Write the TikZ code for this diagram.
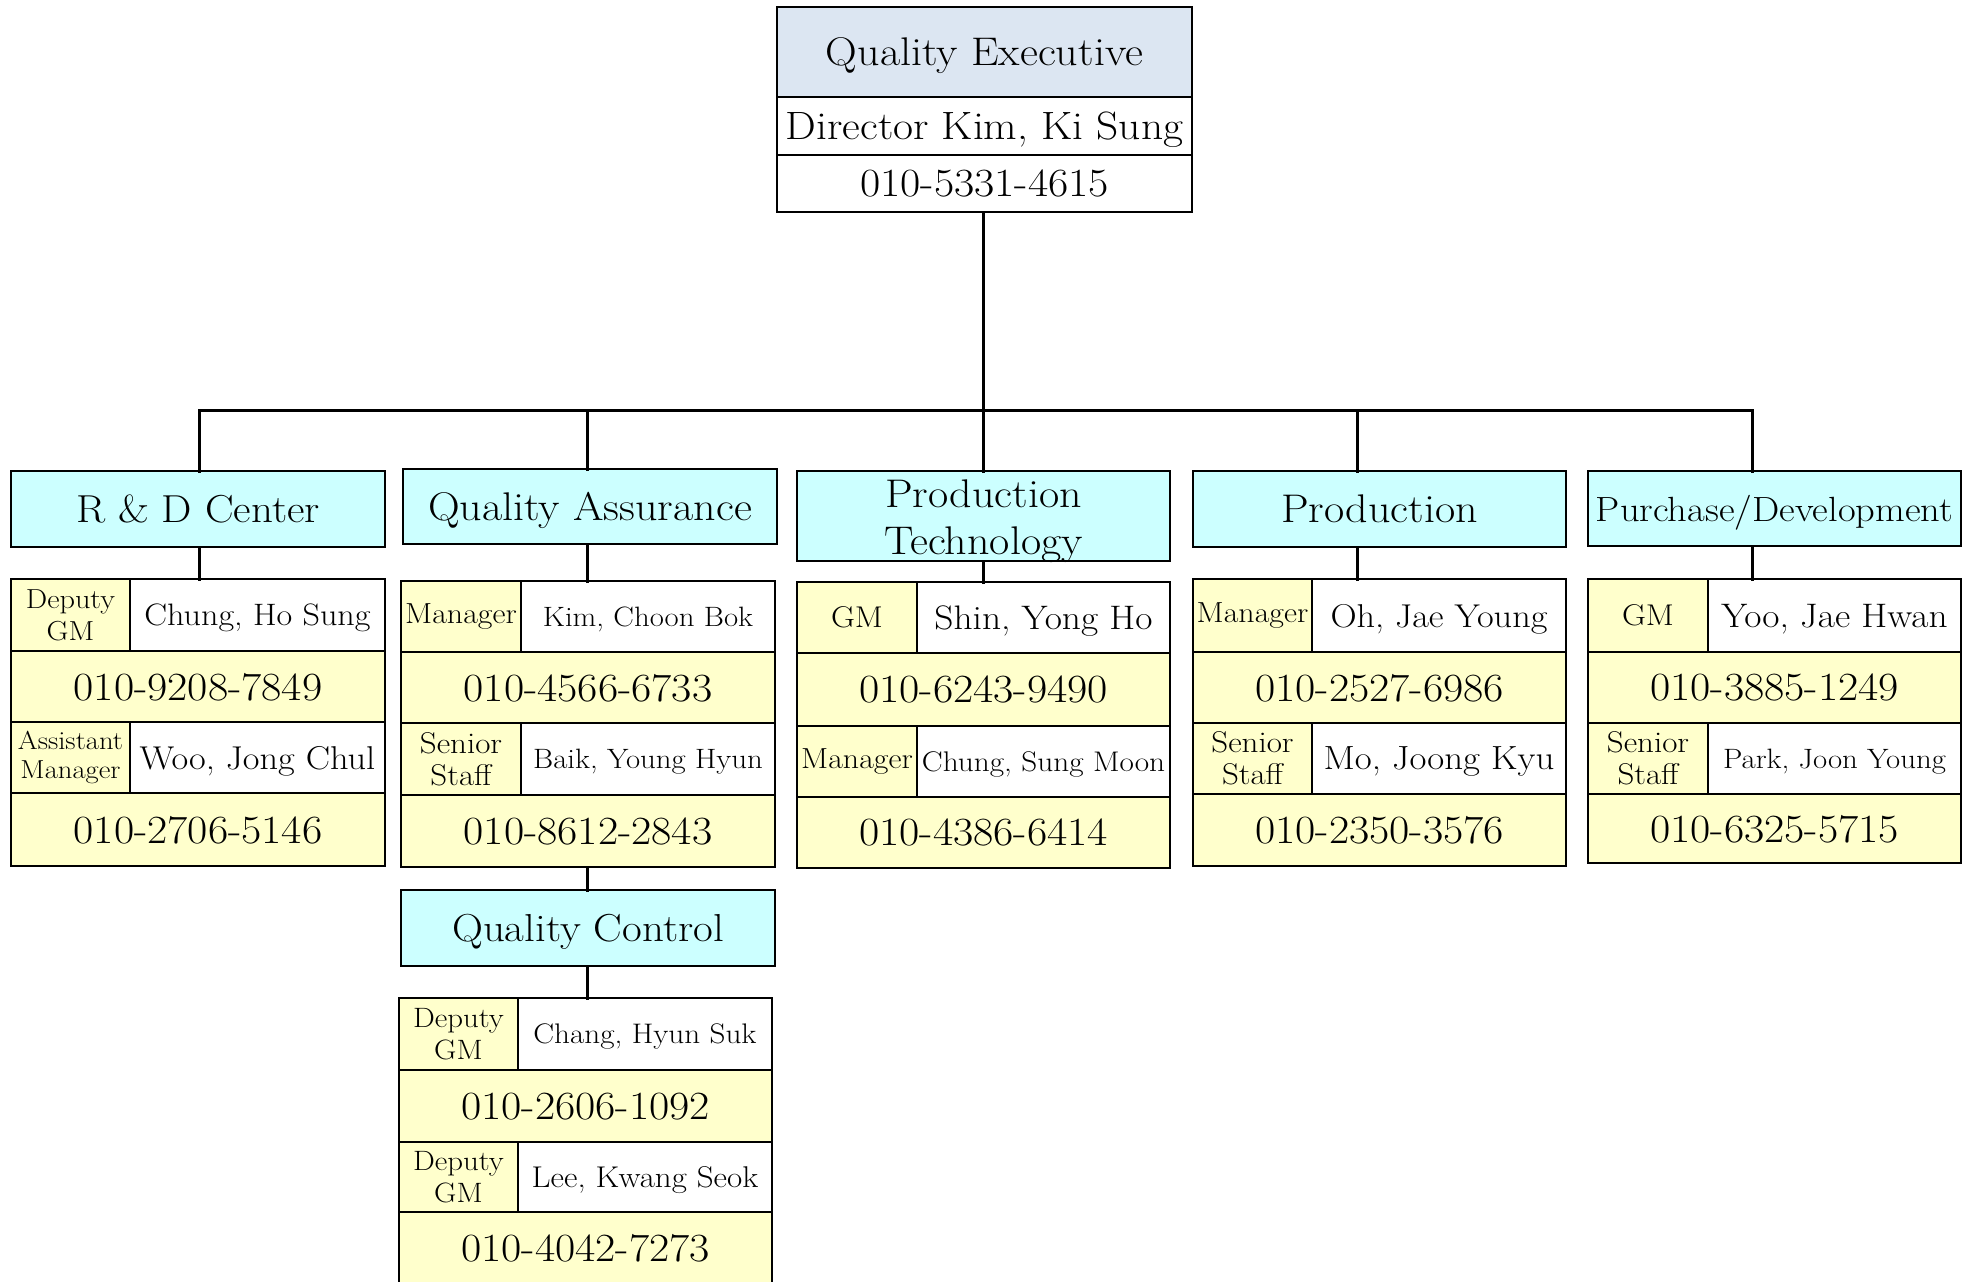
\documentclass[tikz,border=0pt]{standalone}
\usepackage{fontspec}
\setmainfont{Latin Modern Roman}[FakeStretch=1.1]
\usetikzlibrary{calc}
\definecolor{exblue}{RGB}{220,230,242}
\definecolor{dcyan}{RGB}{204,255,255}
\definecolor{cyel}{RGB}{255,255,204}
\newcommand\fsz[1]{\fontsize{#1}{#1}\selectfont}
\tikzset{
  cellbase/.style={draw=black, line width=2.5pt, inner sep=0pt, outer sep=0pt},
  rolecell/.style={cellbase, fill=cyel, align=center},
  namecell/.style={cellbase, fill=white, text depth=0pt},
  phonecell/.style={cellbase, fill=cyel, text depth=0pt, font=\fsz{40}},
  deptbox/.style={cellbase, fill=dcyan, text depth=0pt},
  topcell/.style={cellbase, text depth=0pt},
  conn/.style={line width=3pt, line cap=rect},
}
% #1 name, #2 style, #3 x0, #4 y0, #5 x1, #6 y1, #7 text
\newcommand\cellnode[7]{%
  \pgfmathsetmacro\mycellw{#5-#3}%
  \pgfmathsetmacro\mycellh{#6-#4}%
  \pgfmathsetmacro\mycellx{(#3+#5)/2}%
  \pgfmathsetmacro\mycelly{(#4+#6)/2}%
  \node[#2, minimum width=\mycellw pt, minimum height=\mycellh pt] (#1) at (\mycellx,\mycelly) {#7};
}
% #1 id, #2 top, #3 mid, #4 bottom, #5 role font, #6 role, #7 name size, #8 name, #9 phone
\newcommand\prow[9]{%
  \cellnode{#1r}{rolecell, font=#5}{\bxl}{#2}{\bxs}{#3}{#6}
  \cellnode{#1n}{namecell, font=\fsz{#7}}{\bxs}{#2}{\bxr}{#3}{#8}
  \cellnode{#1p}{phonecell}{\bxl}{#3}{\bxr}{#4}{#9}
}
\begin{document}
\begin{tikzpicture}[x=1pt,y=-1pt]
\useasboundingbox (0,0) rectangle (1973,1282);
\clip (0,0) rectangle (1973,1282);

% top box
\cellnode{top1}{topcell, fill=exblue, font=\fsz{40}}{777}{7}{1192}{97}{Quality Executive}
\cellnode{top2}{topcell, fill=white, font=\fsz{39.5}}{777}{97}{1192}{155}{Director Kim, Ki Sung}
\cellnode{top3}{topcell, fill=white, font=\fsz{40}}{777}{155}{1192}{212}{010-5331-4615}

% department boxes
\cellnode{rd}{deptbox, font=\fsz{39}}{11}{471}{385}{547}{R \& D Center}
\cellnode{qa}{deptbox, font=\fsz{40}}{403}{469}{777}{544}{Quality Assurance}
\cellnode{pt}{deptbox}{797}{471}{1170}{561}{}
\node[font=\fontsize{40}{47}\selectfont, align=center, inner sep=0pt] (ptlabel) at ($(pt.center)+(0,5.5)$) {Production\\Technology};
\cellnode{prod}{deptbox, font=\fsz{40}}{1193}{471}{1566}{547}{Production}
\cellnode{pur}{deptbox, font=\fsz{35}}{1588}{471}{1961}{546}{Purchase/Development}
\cellnode{qc}{deptbox, font=\fsz{39}}{401}{890}{775}{966}{Quality Control}

% R & D
\def\bxl{11}\def\bxs{130}\def\bxr{385}
\prow{rda}{579}{651}{722}{\fontsize{27.5}{32}\selectfont}{Deputy\\GM}{31}{Chung, Ho Sung}{010-9208-7849}
\prow{rdb}{722}{793}{866}{\fontsize{26}{29}\selectfont}{Assistant\\Manager}{33}{Woo, Jong Chul}{010-2706-5146}

% Quality Assurance
\def\bxl{401}\def\bxs{521}\def\bxr{775}
\prow{qaa}{581}{652}{723}{\fontsize{29}{32}\selectfont}{Manager}{28}{Kim, Choon Bok}{010-4566-6733}
\prow{qab}{723}{795}{867}{\fontsize{30}{32}\selectfont}{Senior\\Staff}{28}{Baik, Young Hyun}{010-8612-2843}

% Production Technology
\def\bxl{797}\def\bxs{917}\def\bxr{1170}
\prow{pta}{582}{653}{726}{\fontsize{30}{32}\selectfont}{GM}{34}{Shin, Yong Ho}{010-6243-9490}
\prow{ptb}{726}{797}{868}{\fontsize{29}{32}\selectfont}{Manager}{28.4}{Chung, Sung Moon}{010-4386-6414}

% Production
\def\bxl{1193}\def\bxs{1312}\def\bxr{1566}
\prow{pra}{579}{652}{723}{\fontsize{29}{32}\selectfont}{Manager}{33}{Oh, Jae Young}{010-2527-6986}
\prow{prb}{723}{794}{866}{\fontsize{30}{32}\selectfont}{Senior\\Staff}{33.5}{Mo, Joong Kyu}{010-2350-3576}

% Purchase/Development
\def\bxl{1588}\def\bxs{1708}\def\bxr{1961}
\prow{pua}{579}{652}{723}{\fontsize{30}{32}\selectfont}{GM}{34}{Yoo, Jae Hwan}{010-3885-1249}
\prow{pub}{723}{794}{863}{\fontsize{30}{32}\selectfont}{Senior\\Staff}{28}{Park, Joon Young}{010-6325-5715}

% Quality Control
\def\bxl{399}\def\bxs{518}\def\bxr{772}
\prow{qca}{998}{1070}{1142}{\fontsize{28}{32}\selectfont}{Deputy\\GM}{28.3}{Chang, Hyun Suk}{010-2606-1092}
\prow{qcb}{1142}{1212}{1284}{\fontsize{28}{32}\selectfont}{Deputy\\GM}{30}{Lee, Kwang Seok}{010-4042-7273}

% connectors
\coordinate (b1) at (199,410);
\coordinate (b2) at (587,410);
\coordinate (b3) at (983,410);
\coordinate (b4) at (1357,410);
\coordinate (b5) at (1752,410);
\draw[conn] (b1) -- (b5);
\draw[conn] (b3 |- top3.south) -- (b3 |- pt.north);
\draw[conn] (b1) -- (b1 |- rd.north);
\draw[conn] (b2) -- (b2 |- qa.north);
\draw[conn] (b4) -- (b4 |- prod.north);
\draw[conn] (b5) -- (b5 |- pur.north);
\draw[conn] (b1 |- rd.south) -- (b1 |- rdar.north);
\draw[conn] (b2 |- qa.south) -- (b2 |- qaar.north);
\draw[conn] (b3 |- pt.south) -- (b3 |- ptar.north);
\draw[conn] (b4 |- prod.south) -- (b4 |- prar.north);
\draw[conn] (b5 |- pur.south) -- (b5 |- puar.north);
\draw[conn] (b2 |- qabp.south) -- (b2 |- qc.north);
\draw[conn] (b2 |- qc.south) -- (b2 |- qcar.north);
\end{tikzpicture}
\end{document}
